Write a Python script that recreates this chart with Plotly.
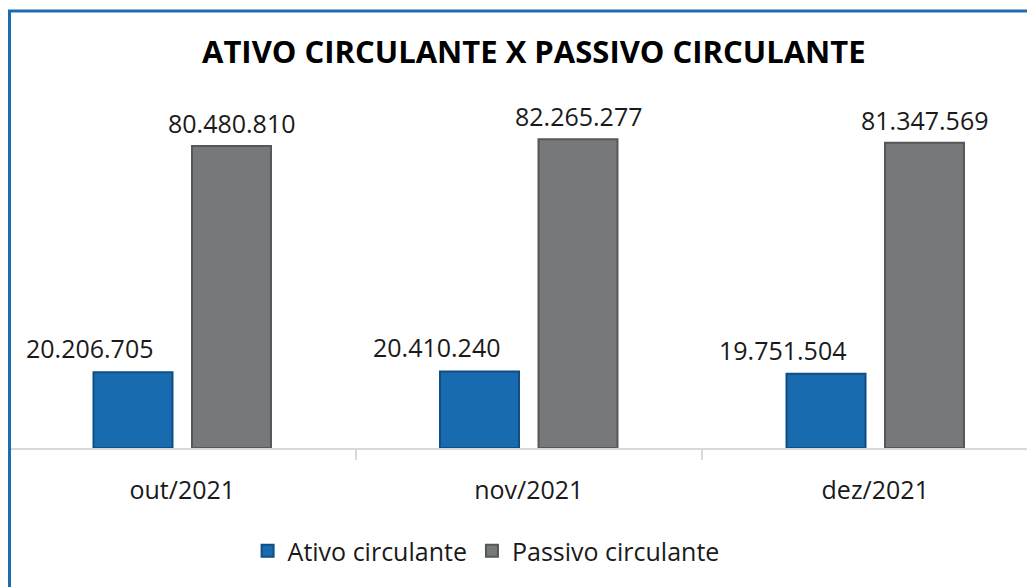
import plotly.graph_objects as go

categories = ["out/2021", "nov/2021", "dez/2021"]
ativo = [20206705, 20410240, 19751504]
passivo = [80480810, 82265277, 81347569]
ativo_labels = ["20.206.705", "20.410.240", "19.751.504"]
passivo_labels = ["80.480.810", "82.265.277", "81.347.569"]

FONT = "Open Sans"
# page has an 8px body margin; figure sized so that it fits the window
W, H = 1027, 579
ML, MT, MB = 1, 52, 139
plot_w = W - ML
plot_h = H - MT - MB
cat_px = 346.5
ymax = plot_h / 3.753 * 1e6

fig = go.Figure()
fig.add_trace(go.Bar(
    name="Ativo circulante", x=categories, y=ativo,
    marker=dict(color="#176bae", line=dict(color="#0e4f85", width=2)),
))
fig.add_trace(go.Bar(
    name="Passivo circulante", x=categories, y=passivo,
    marker=dict(color="#76787a", line=dict(color="#555759", width=2)),
))

# data labels
for cat, v, lab in zip(categories, ativo, ativo_labels):
    fig.add_annotation(x=cat, y=v, text=lab, showarrow=False, xanchor="center", yanchor="middle",
                       xshift=-92, yshift=24, font=dict(family=FONT, size=25, color="#1a1a1a"))
for cat, v, lab in zip(categories, passivo, passivo_labels):
    fig.add_annotation(x=cat, y=v, text=lab, showarrow=False, xanchor="center", yanchor="middle",
                       xshift=50, yshift=23, font=dict(family=FONT, size=25, color="#1a1a1a"))

fig.update_layout(
    width=W, height=H,
    margin=dict(l=ML, r=0, t=MT, b=MB, pad=0),
    paper_bgcolor="white", plot_bgcolor="white",
    barmode="group", bargap=0.4315, bargroupgap=0.198,
    title=dict(text="<b>ATIVO CIRCULANTE X PASSIVO CIRCULANTE</b>",
               x=0.512, xanchor="center", y=1 - 44 / H, yanchor="middle",
               font=dict(family=FONT, size=31, color="#000000")),
    font=dict(family=FONT, size=25, color="#1a1a1a"),
    xaxis=dict(
        range=[-0.5, -0.5 + plot_w / cat_px],
        showline=True, linecolor="#d9d9d9", linewidth=2,
        ticks="outside", tickson="boundaries", ticklen=10, tickcolor="#d9d9d9", tickwidth=2,
        tickfont=dict(family=FONT, size=25, color="#1a1a1a"),
        ticklabelstandoff=19,
        showgrid=False, zeroline=False, fixedrange=True,
    ),
    yaxis=dict(range=[0, ymax], visible=False, fixedrange=True),
    showlegend=True,
    legend=dict(orientation="h", x=0.465, xanchor="center", y=-0.2655, yanchor="middle",
                font=dict(family=FONT, size=25, color="#1a1a1a"),
                itemwidth=30, traceorder="normal"),
)

# outer blue frame
fig.add_shape(type="rect", xref="paper", yref="paper",
              x0=0.0005, x1=1.2, y0=-0.6, y1=(plot_h + MT - 3) / plot_h,
              line=dict(color="#1b6db0", width=3), fillcolor="rgba(0,0,0,0)", layer="above")

fig.write_html("out.html")
